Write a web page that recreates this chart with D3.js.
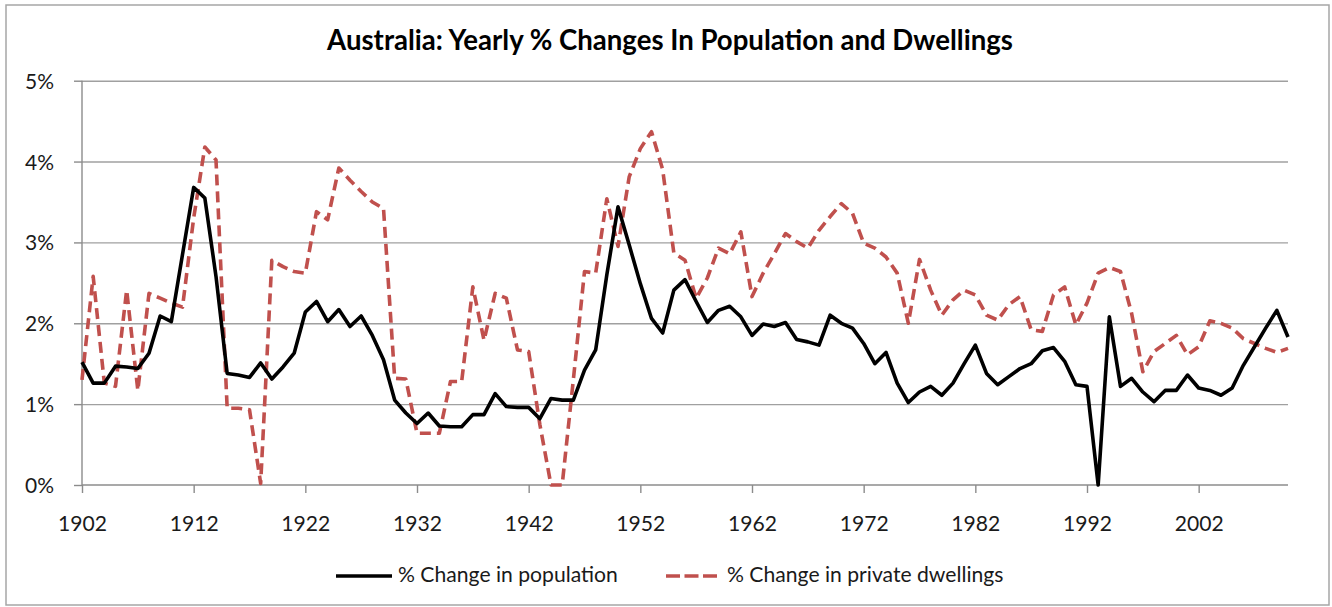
<!DOCTYPE html>
<html><head><meta charset="utf-8">
<script src="https://cdn.jsdelivr.net/npm/d3@7"></script>
<style>body{margin:0;background:#fff}svg{display:block}</style>
</head><body><svg id="c" width="1332" height="607"></svg>
<script>
const years = d3.range(1902, 2011);
const population = [
1.52,1.26,1.26,1.47,1.46,1.44,1.63,2.09,2.02,2.85,
3.68,3.55,2.58,1.38,1.36,1.33,1.51,1.31,1.46,1.63,
2.14,2.27,2.02,2.17,1.96,2.09,1.85,1.55,1.05,0.89,
0.76,0.89,0.73,0.72,0.72,0.87,0.87,1.13,0.97,0.96,
0.96,0.82,1.07,1.05,1.05,1.42,1.67,2.60,3.44,2.97,
2.49,2.06,1.88,2.41,2.54,2.27,2.01,2.16,2.21,2.08,
1.85,1.99,1.96,2.01,1.80,1.77,1.73,2.10,2.00,1.94,
1.75,1.50,1.64,1.26,1.02,1.15,1.22,1.11,1.26,1.50,
1.73,1.38,1.24,1.34,1.44,1.50,1.66,1.70,1.53,1.24,
1.22,0.00,2.08,1.22,1.32,1.15,1.03,1.17,1.17,1.36,
1.20,1.17,1.11,1.20,1.48,1.71,1.94,2.16,1.83];
const dwellings = [
1.30,2.58,1.26,1.22,2.41,1.17,2.37,2.31,2.25,2.20,
3.30,4.18,4.02,0.95,0.95,0.93,0.02,2.78,2.70,2.64,
2.62,3.38,3.28,3.92,3.77,3.63,3.50,3.42,1.32,1.31,
0.64,0.64,0.64,1.28,1.28,2.45,1.79,2.37,2.31,1.67,
1.65,0.75,0.00,0.00,1.30,2.64,2.62,3.54,2.95,3.81,
4.16,4.37,3.90,2.87,2.78,2.31,2.56,2.93,2.86,3.13,
2.33,2.62,2.86,3.11,3.01,2.93,3.15,3.32,3.48,3.36,
2.99,2.93,2.82,2.62,2.00,2.79,2.41,2.10,2.29,2.41,
2.35,2.10,2.04,2.23,2.33,1.92,1.90,2.35,2.45,1.98,
2.25,2.62,2.69,2.64,2.12,1.40,1.65,1.75,1.85,1.61,
1.71,2.03,2.00,1.94,1.81,1.75,1.69,1.64,1.69];
const xTickYears = [1902,1912,1922,1932,1942,1952,1962,1972,1982,1992,2002];
const yTickValues = [0,1,2,3,4,5];
const yTickLabels = ["0%","1%","2%","3%","4%","5%"];
const seriesNames = ["% Change in population","% Change in private dwellings"];
const titleText = "Australia: Yearly % Changes In Population and Dwellings";

const FONT = "Lato, 'Open Sans', sans-serif";
const svg = d3.select("#c");

function fit(sel, target, base) {
  const n = sel.node();
  sel.style("font-size", base + "px");
  const w = n.getComputedTextLength();
  sel.style("font-size", (base * target / w).toFixed(2) + "px");
}

// chart border
svg.append("rect").attr("x",6).attr("y",5).attr("width",1323).attr("height",600)
  .attr("fill","none").attr("stroke","#a6a6a6").attr("stroke-width",1.5);

const x = d3.scaleLinear().domain([1902,2010]).range([82,1288]);
const y = d3.scaleLinear().domain([0,5]).range([485,80.7]);

// gridlines
svg.append("g").attr("transform","translate(82,0)")
  .call(d3.axisLeft(y).tickValues(yTickValues.slice(1)).tickSize(-(1288-82)).tickFormat(""))
  .call(g=>g.select(".domain").remove())
  .call(g=>g.selectAll("line").attr("stroke","#a0a0a0").attr("stroke-width",1.4));

// y axis
const ya = svg.append("g").attr("transform","translate(82,0)")
  .call(d3.axisLeft(y).tickValues(yTickValues).tickSize(8).tickPadding(20)
    .tickFormat((d,i)=>yTickLabels[i]));
ya.select(".domain").attr("stroke","#8c8c8c").attr("stroke-width",1.4).attr("d","M0,80.7V485");
ya.selectAll("line").attr("stroke","#8c8c8c").attr("stroke-width",1.4);
ya.selectAll("text").attr("fill","#1a1a1a").style("font-family",FONT).attr("dy","0.36em");

// x axis
const xa = svg.append("g").attr("transform","translate(0,485)")
  .call(d3.axisBottom(x).tickValues(xTickYears).tickSize(8).tickPadding(23).tickFormat(d3.format("d")));
xa.select(".domain").attr("stroke","#8c8c8c").attr("stroke-width",1.4).attr("d","M82,0H1288");
xa.selectAll("line").attr("stroke","#8c8c8c").attr("stroke-width",1.4);
xa.selectAll("text").attr("fill","#1a1a1a").style("font-family",FONT);

// fit tick fonts
{
  const t5 = ya.selectAll("text").filter((d)=>d===5);
  fit(t5, 29, 20);
  const fs = t5.style("font-size");
  ya.selectAll("text").style("font-size", fs);
  const t1 = xa.selectAll("text").filter((d)=>d===1902);
  fit(t1, 49, 20);
  xa.selectAll("text").style("font-size", t1.style("font-size"));
}

const line = d3.line().x((d,i)=>x(years[i])).y(d=>y(d));

svg.append("path").datum(dwellings).attr("d",line)
  .attr("fill","none").attr("stroke","#C0504D").attr("stroke-width",3.6)
  .attr("stroke-dasharray","11,6").attr("stroke-linejoin","round");
svg.append("path").datum(population).attr("d",line)
  .attr("fill","none").attr("stroke","#000").attr("stroke-width",3.6)
  .attr("stroke-linejoin","round");

// title
const title = svg.append("text").attr("x",670).attr("y",50).attr("text-anchor","middle")
  .style("font-family",FONT).style("font-weight","700").attr("fill","#000").text(titleText);
fit(title, 686, 26);

// legend
const lg = svg.append("g");
lg.append("line").attr("x1",336).attr("x2",392).attr("y1",576).attr("y2",576)
  .attr("stroke","#000").attr("stroke-width",3.6);
const lt1 = lg.append("text").attr("x",398).attr("y",582).style("font-family",FONT)
  .attr("fill","#1a1a1a").text(seriesNames[0]);
fit(lt1, 220, 19);
lg.append("line").attr("x1",666).attr("x2",717).attr("y1",576).attr("y2",576)
  .attr("stroke","#C0504D").attr("stroke-width",3.6).attr("stroke-dasharray","14,4.5");
lg.append("text").attr("x",727).attr("y",582).style("font-family",FONT)
  .style("font-size",lt1.style("font-size")).attr("fill","#1a1a1a").text(seriesNames[1]);
</script>
</body></html>
